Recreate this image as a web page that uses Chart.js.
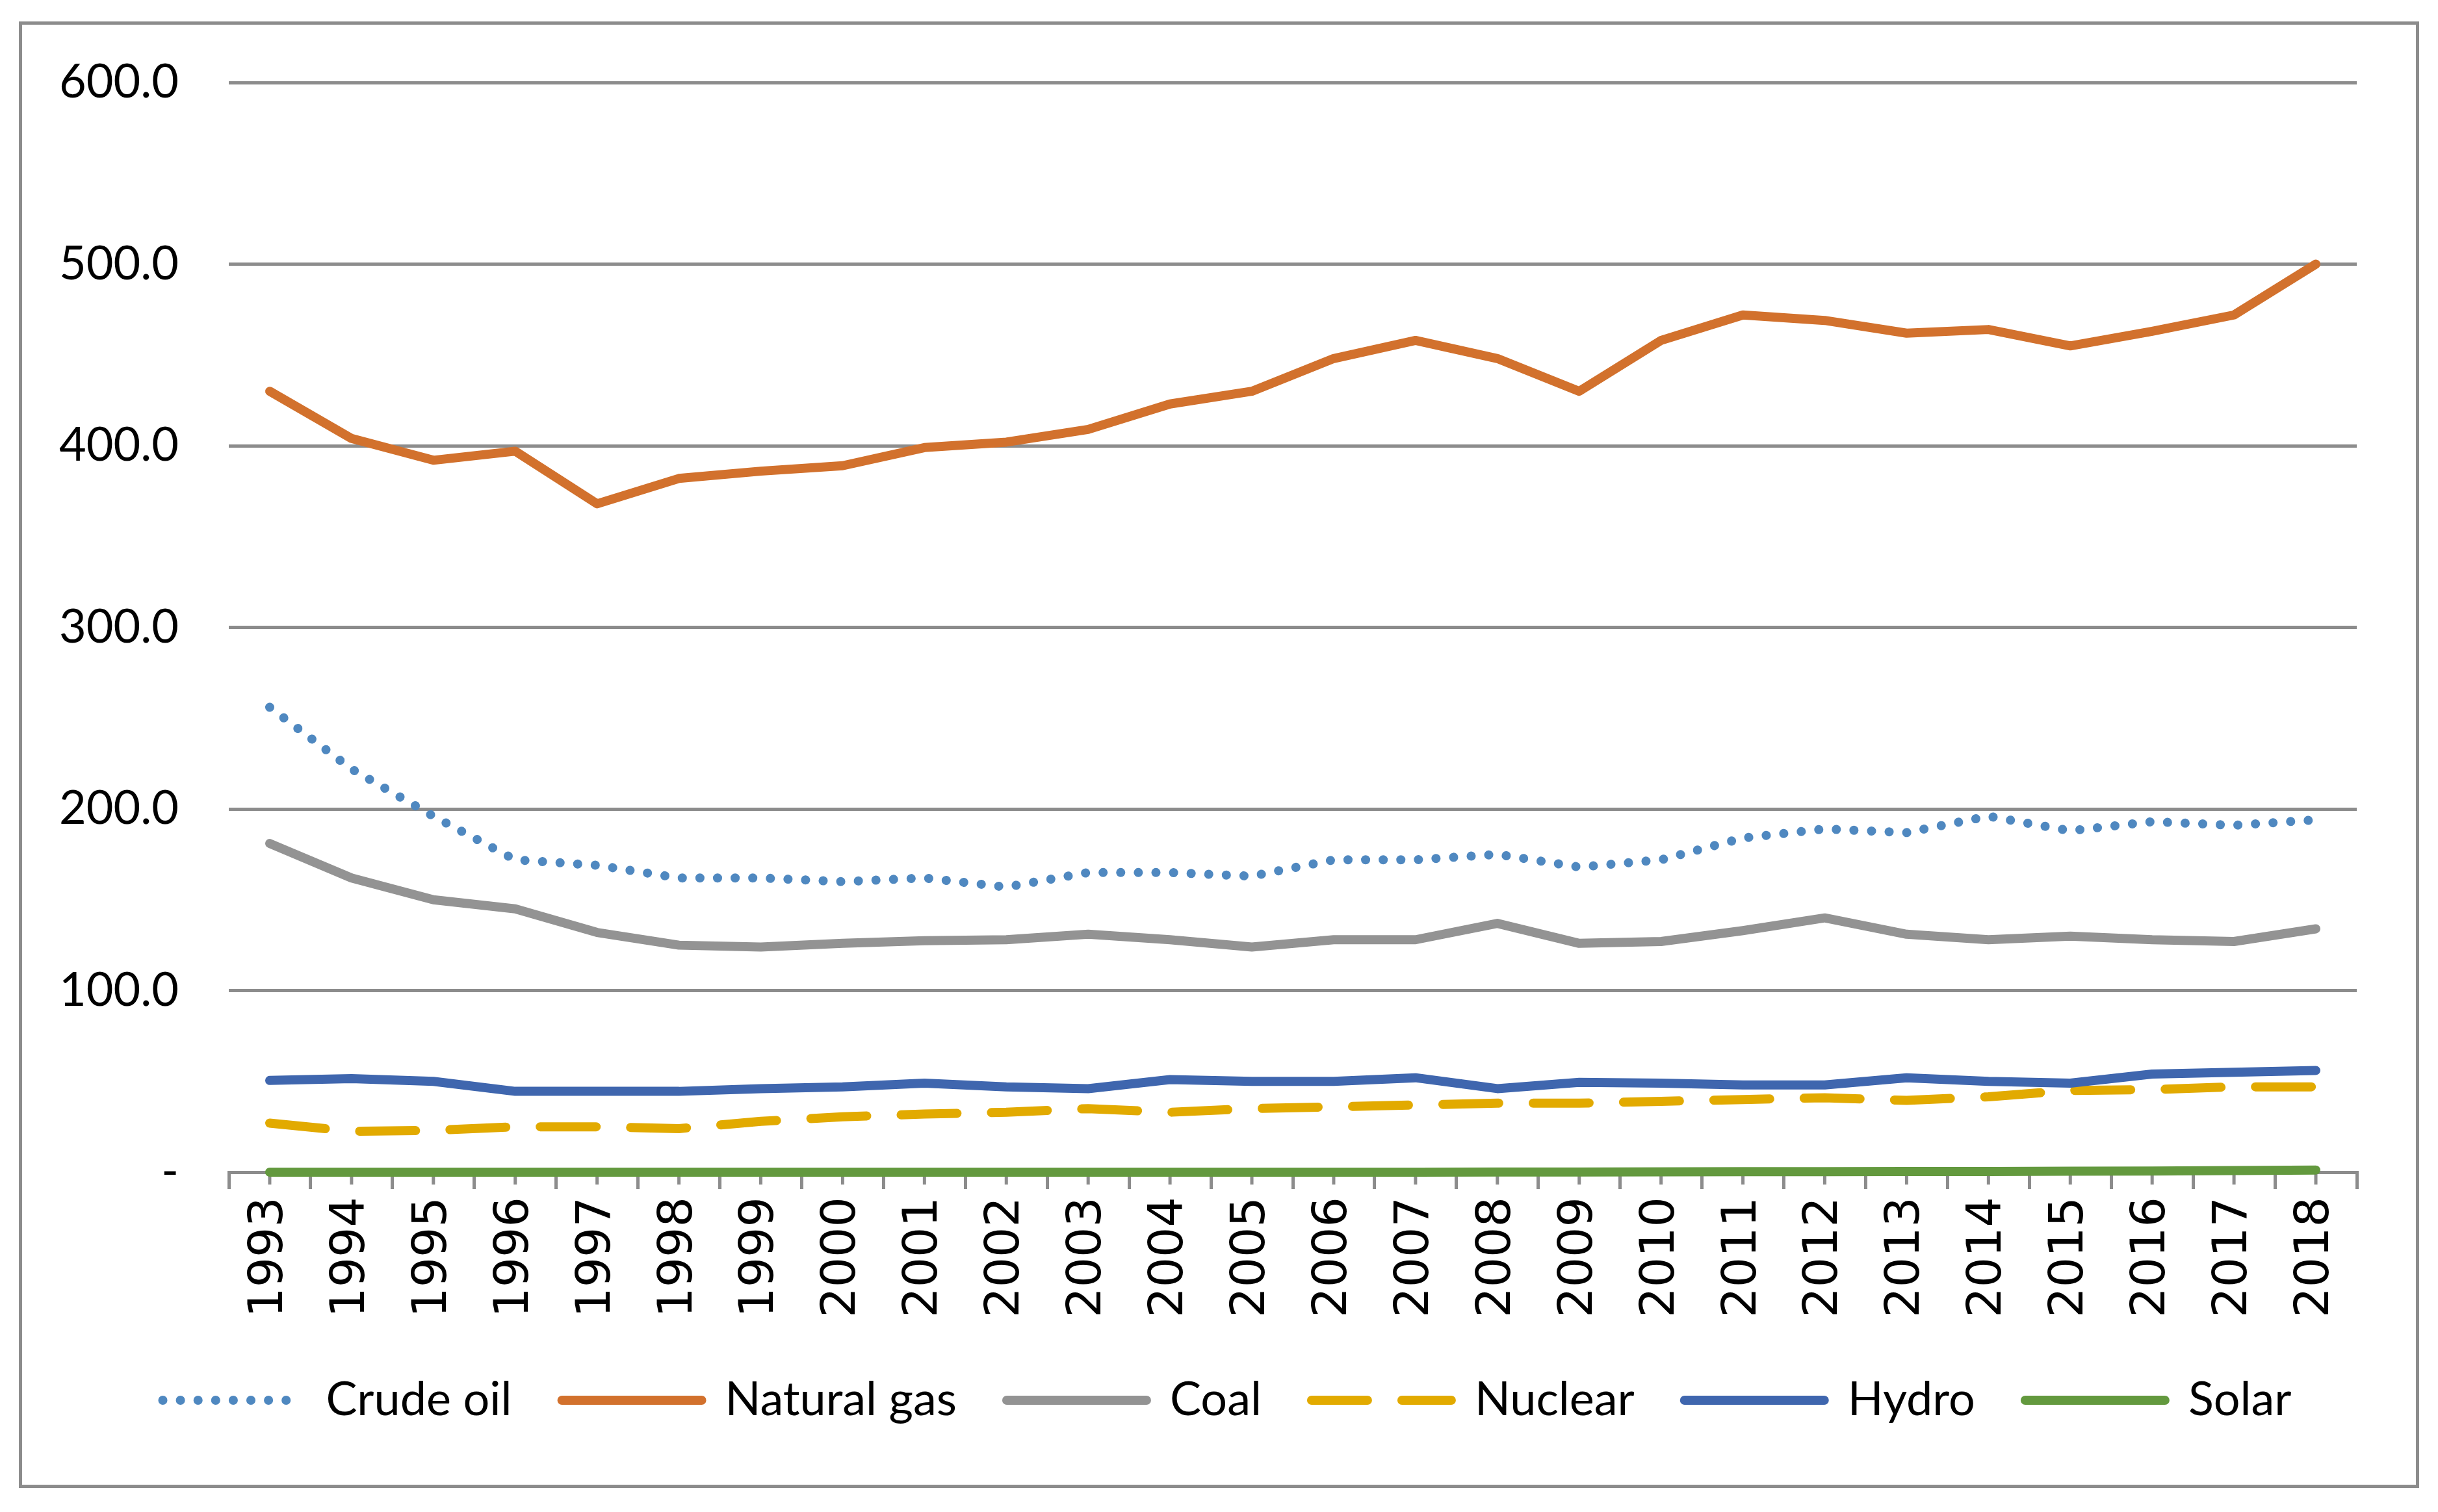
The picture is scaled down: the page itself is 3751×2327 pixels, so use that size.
<!DOCTYPE html>
<html>
<head>
<meta charset="utf-8">
<script src="https://cdn.jsdelivr.net/npm/chart.js@4.4.1/dist/chart.umd.min.js"></script>
<style>
html,body{margin:0;padding:0;background:#fff;overflow:hidden}
#c{display:block}
</style>
</head>
<body>
<canvas id="c" width="3751" height="2327"></canvas>
<script>
const years = ["1993","1994","1995","1996","1997","1998","1999","2000","2001","2002","2003","2004","2005","2006","2007","2008","2009","2010","2011","2012","2013","2014","2015","2016","2017","2018"];
const crudeOil   = [256,222,196,172,169,162,162,160,162,157,165,165,163,172,172,175,168,172,184,189,187,196,188,193,191,194];
const naturalGas = [430,404,392,397,368,382,386,389,399,402,409,423,430,448,458,448,430,458,472,469,462,464,455,463,472,500];
const coal       = [181,162,150,145,132,125,124,126,127.5,128,131,128,124,128,128,137,126,127,133,140,131,128,130,128,127,134];
const nuclear    = [27,22.5,23,25,25,24,28,30.5,32,33,35,33,35,36,37,38,38,39,40,41,39.5,41.5,45,45.5,47,47];
const hydro      = [50.5,51.5,50,44.5,44.5,44.5,46,47,49,47,46,51,50,50,52,46,49.5,49,48,48,52,50,49,54,55,56];
const solar      = [0,0,0,0,0,0,0,0,0,0,0,0,0,0,0,0.1,0.1,0.2,0.3,0.3,0.4,0.4,0.5,0.6,0.9,1.2];
const yTicks     = [0,100,200,300,400,500,600];

const LW = 14;
const base = {pointRadius:0, pointHoverRadius:0, tension:0, borderWidth:LW, borderCapStyle:'round', borderJoinStyle:'round', fill:false, clip:false};

const framePlugin = {
  id:'frame',
  beforeDraw(chart){
    const ctx = chart.ctx;
    ctx.save();
    ctx.fillStyle = '#fff';
    ctx.fillRect(0,0,chart.width,chart.height);
    ctx.strokeStyle = '#8C8C8C';
    ctx.lineWidth = 5;
    ctx.strokeRect(31.5,35.5,3688,2252);
    ctx.restore();
  }
};

const minorTicks = {
  id:'minorTicks',
  beforeDatasetsDraw(chart){
    const x = chart.scales.x, ctx = chart.ctx;
    ctx.save();
    ctx.strokeStyle = '#8C8C8C';
    ctx.lineWidth = 5;
    ctx.beginPath();
    for (let i = 0; i < years.length; i++) {
      const px = x.getPixelForValue(i);
      ctx.moveTo(px, x.top);
      ctx.lineTo(px, x.top + 19);
    }
    ctx.stroke();
    ctx.restore();
  }
};

new Chart(document.getElementById('c'), {
  type:'line',
  data:{
    labels: years,
    datasets:[
      Object.assign({label:'Crude oil', data:crudeOil, borderColor:'#4F88C0', backgroundColor:'#4F88C0', borderDash:[0.1,27], order:6}, base),
      Object.assign({label:'Natural gas', data:naturalGas, borderColor:'#D2712D', backgroundColor:'#D2712D', order:5}, base),
      Object.assign({label:'Coal', data:coal, borderColor:'#939393', backgroundColor:'#939393', order:4}, base),
      Object.assign({label:'Nuclear', data:nuclear, borderColor:'#E2AA00', backgroundColor:'#E2AA00', borderDash:[86,53], order:3}, base),
      Object.assign({label:'Hydro', data:hydro, borderColor:'#3F66AE', backgroundColor:'#3F66AE', order:2}, base),
      Object.assign({label:'Solar', data:solar, borderColor:'#63993E', backgroundColor:'#63993E', order:1}, base)
    ]
  },
  options:{
    responsive:false,
    devicePixelRatio:1,
    animation:false,
    events:[],
    layout:{padding:{left:60,right:35,top:127,bottom:126}},
    plugins:{
      tooltip:{enabled:false},
      legend:{
        position:'bottom',
        labels:{
          usePointStyle:true,
          pointStyle:'line',
          pointStyleWidth:215,
          boxHeight:72,
          padding:77,
          color:'#000',
          font:{family:'Lato, "Open Sans", sans-serif', size:72},
          sort:(a,b)=>a.datasetIndex-b.datasetIndex,
          generateLabels(chart){
            const items = Chart.defaults.plugins.legend.labels.generateLabels(chart);
            items.forEach(it => {
              const ds = chart.data.datasets[it.datasetIndex];
              it.lineDash = ds.borderDash || [];
              it.lineCap = 'round';
              it.lineWidth = LW;
              it.strokeStyle = ds.borderColor;
              it.fillStyle = ds.borderColor;
              it.pointStyle = 'line';
            });
            return items;
          }
        }
      }
    },
    scales:{
      x:{
        type:'category',
        offset:true,
        afterFit(s){ s.height = 238; },
        grid:{display:true, drawOnChartArea:false, drawTicks:true, tickLength:26, offset:true, color:'#8C8C8C', lineWidth:5},
        border:{display:true, color:'#8C8C8C', width:5},
        ticks:{autoSkip:false, minRotation:90, maxRotation:90, padding:12, color:'#000', font:{family:'"DejaVu Sans", Verdana, sans-serif', size:73}}
      },
      y:{
        min:0, max:600,
        afterFit(s){ s.width = 292; },
        afterBuildTicks(s){ s.ticks = yTicks.map(v=>({value:v})); },
        grid:{color:'#8C8C8C', lineWidth:5, drawTicks:false},
        border:{display:false},
        ticks:{padding:77, color:'#000', font:{family:'Lato, "Open Sans", sans-serif', size:72},
          callback:(v)=> v===0 ? '-' : Number(v).toFixed(1)}
      },
      spacer:{
        type:'linear',
        position:'right',
        display:true,
        afterFit(s){ s.width = 90; },
        grid:{drawOnChartArea:false, drawTicks:false, display:false},
        border:{display:false},
        ticks:{display:false}
      }
    }
  },
  plugins:[framePlugin, minorTicks]
});
</script>
</body>
</html>
